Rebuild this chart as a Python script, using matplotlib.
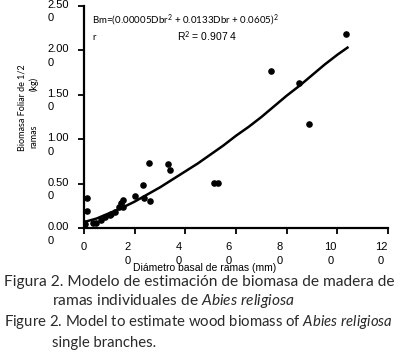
import matplotlib
matplotlib.use("Agg")
from matplotlib import pyplot as plt
from matplotlib.transforms import ScaledTranslation

# diameter in mm, biomass in kg
diam = [0, 0.5, 1.2, 1.2, 3.5, 4.7, 6.7, 8.1, 10.1, 10.6, 12.1, 14.0, 14.7, 15.4, 15.4,
        20.0, 23.2, 23.6, 25.5, 26.1, 33.1, 34.1, 51.5, 53.0, 73.9, 84.8, 89.0, 103.4]
biomass = [0.06, 0.05, 0.34, 0.20, 0.06, 0.06, 0.09, 0.13, 0.15, 0.16, 0.18, 0.24, 0.28, 0.32, 0.24,
           0.36, 0.49, 0.34, 0.73, 0.31, 0.72, 0.65, 0.51, 0.51, 1.77, 1.63, 1.17, 2.18]

# fitted trend line
fit_x = [0, 5, 10, 15, 20, 25, 30, 35, 40, 45, 50, 55, 60, 65, 70, 75, 80, 85, 90, 95, 100, 104]
fit_y = [0.07, 0.11, 0.17, 0.23, 0.30, 0.38, 0.46, 0.55, 0.64, 0.73, 0.83, 0.93, 1.04, 1.14,
         1.25, 1.37, 1.49, 1.60, 1.72, 1.84, 1.95, 2.03]

xticks = [0, 20, 40, 60, 80, 100, 120]
xticklabels = ["0", "2\n0", "4\n0", "6\n0", "8\n0", "10\n0", "12\n0"]
yticks = [0.0, 0.5, 1.0, 1.5, 2.0, 2.5]
yticklabels = ["0.00\n0", "0.50\n0", "1.00\n0", "1.50\n0", "2.00\n0", "2.50\n0"]

equation = "Bm=(0.00005Dbr$^2$ + 0.0133Dbr + 0.0605)$^2$"
r2 = "R$^2$ = 0.907 4"

plt.rcParams['mathtext.fontset'] = 'custom'
plt.rcParams['mathtext.rm'] = 'Lato'
plt.rcParams['mathtext.it'] = 'Lato:italic'

W, H = 404, 361
fig = plt.figure(figsize=(W / 100, H / 100), dpi=100)
ax = fig.add_axes([84 / W, (H - 228.3) / H, 304 / W, 222.5 / H])

ax.scatter(diam, biomass, s=14, color="black", zorder=3)
ax.plot(fit_x, fit_y, color="black", lw=1.8)

ax.set_xlim(0, 120)
ax.set_ylim(0, 2.5)
ax.spines['top'].set_visible(False)
ax.spines['right'].set_visible(False)
ax.spines['left'].set_linewidth(1.6)
ax.spines['bottom'].set_linewidth(1.6)

ax.set_xticks(xticks)
ax.set_xticklabels(xticklabels, fontsize=8, family="Liberation Sans", linespacing=1.45)
ax.set_yticks(yticks)
ax.set_yticklabels(yticklabels, fontsize=8, family="Liberation Sans", linespacing=1.45,
                   ha="right", multialignment="left")
ax.tick_params(axis='x', direction='out', length=4, width=1.3, pad=6)
ax.tick_params(axis='y', direction='out', length=4, width=1.3, pad=7)

for i, lbl in enumerate(ax.get_xticklabels()):
    if i > 0:
        lbl.set_transform(lbl.get_transform() + ScaledTranslation(-7 / 100, 0, fig.dpi_scale_trans))
for lbl in ax.get_yticklabels():
    lbl.set_verticalalignment("top")
    lbl.set_transform(lbl.get_transform() + ScaledTranslation(0, 6 / 100, fig.dpi_scale_trans))

# equation and R2
fig.text(92 / W, 1 - 20 / H, equation, fontsize=7, family="Lato", va="center", ha="left")
fig.text(92 / W, 1 - 38 / H, "r", fontsize=7, family="Lato", va="center", ha="left")
fig.text(177 / W, 1 - 37 / H, r2, fontsize=7.5, family="Liberation Sans", va="center", ha="left")

# axis titles
fig.text(205 / W, 1 - 268 / H, "Diámetro basal de ramas (mm)", fontsize=7.5,
         family="Liberation Sans", ha="center", va="center")
fig.text(22 / W, 1 - 108 / H, "Biomasa Foliar de 1/2", fontsize=6.5, family="Lato",
         rotation=90, ha="center", va="center")
fig.text(34 / W, 1 - 136 / H, "ramas", fontsize=6.5, family="Lato",
         rotation=90, ha="center", va="center")
fig.text(34 / W, 1 - 84 / H, "(kg)", fontsize=6.5, family="Lato",
         rotation=90, ha="center", va="center")

# caption
cap = dict(family="Lato", va="center", ha="left", color="#2a2a2a")
fig.text(4 / W, 1 - 282 / H, "Figura 2. Modelo de estimación de biomasa de madera de", fontsize=11.2, **cap)
fig.text(52 / W, 1 - 301 / H, "ramas individuales de $\\it{Abies\\ religiosa}$", fontsize=11.2, **cap)
fig.text(4 / W, 1 - 322 / H, "Figure 2. Model to estimate wood biomass of $\\it{Abies\\ religiosa}$", fontsize=10.7, **cap)
fig.text(52 / W, 1 - 343 / H, "single branches.", fontsize=10.7, **cap)

plt.savefig("out.png", dpi=100)
